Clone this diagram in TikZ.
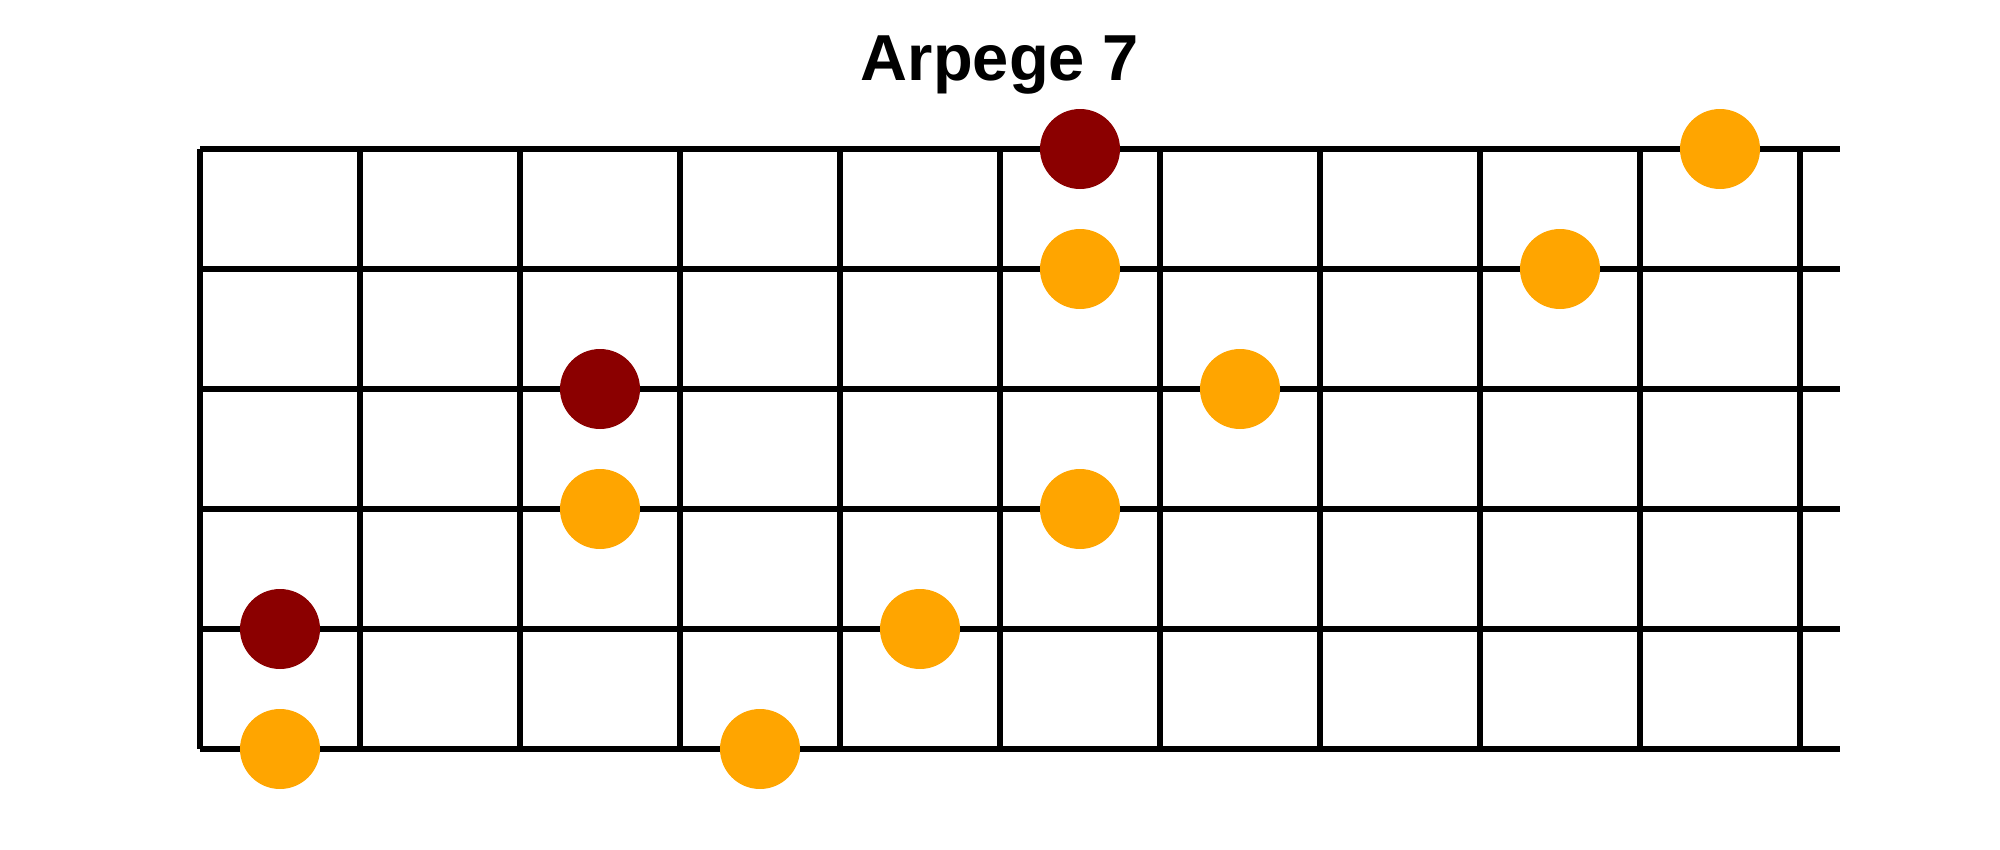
\documentclass[tikz,border=0pt]{standalone}
\usepackage{fontspec}
\setmainfont{Liberation Sans}
\usepackage{tikz}
\usetikzlibrary{positioning}
\definecolor{rootred}{HTML}{8B0000}
\definecolor{noteorange}{HTML}{FFA500}
\tikzset{
  fretline/.style={line width=0.12cm,black},
  note/.style={circle,fill=noteorange,minimum size=1.6cm,inner sep=0pt},
  root/.style={note,fill=rootred}
}

\begin{document}
\begin{tikzpicture}
   \useasboundingbox (0,0) rectangle (40,-17);
   \node[font=\bfseries\fontsize{37}{40}\selectfont,anchor=base] (title) at (20,-1.614) {Arpege 7};
   \begin{scope}[shift={(4cm,-2.98cm)},x=3.2cm,y=-2.4cm]
   % frets and strings
   \foreach \f in {0,...,10}
      \draw[fretline] (\f,0) -- (\f,5);
   \foreach \s in {0,...,5}
      \draw[fretline] (0,\s) -- (10.25,\s);
   % notes
   \node[root] (r_1) at (5.5,0) {};
   \node[note] (n_1) at (9.5,0) {};
   \node[note] (n_2) at (5.5,1) {};
   \node[note] (n_3) at (8.5,1) {};
   \node[root] (r_2) at (2.5,2) {};
   \node[note] (n_4) at (6.5,2) {};
   \node[note] (n_5) at (2.5,3) {};
   \node[note] (n_6) at (5.5,3) {};
   \node[root] (r_3) at (0.5,4) {};
   \node[note] (n_7) at (4.5,4) {};
   \node[note] (n_8) at (0.5,5) {};
   \node[note] (n_9) at (3.5,5) {};
   \end{scope}
\end{tikzpicture}
\end{document}
